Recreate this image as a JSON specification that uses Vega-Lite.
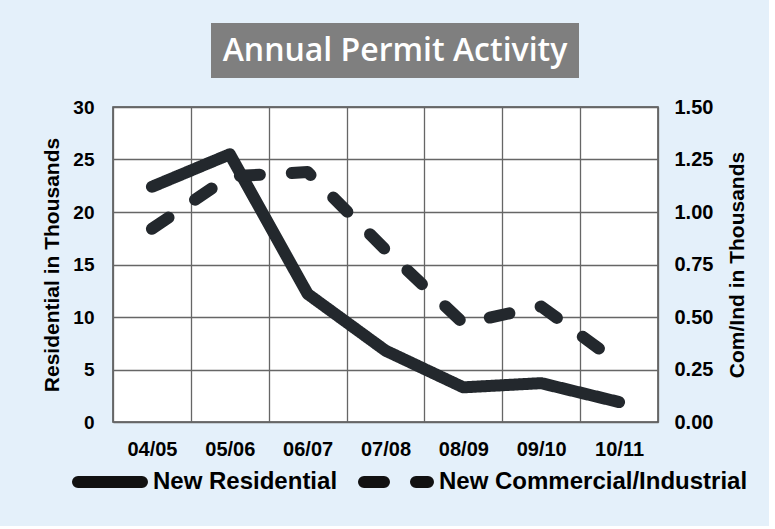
{
  "$schema": "https://vega.github.io/schema/vega-lite/v6.json",
  "background": "#e4f0fa",
  "padding": {"left": 41, "top": 23, "right": 20, "bottom": 20},
  "spacing": 18,
  "config": {"font": "Liberation Sans"},
  "datasets": {
    "permits": [
      {"year": "04/05", "series": "New Residential", "value": 22.4},
      {"year": "05/06", "series": "New Residential", "value": 25.5},
      {"year": "06/07", "series": "New Residential", "value": 12.2},
      {"year": "07/08", "series": "New Residential", "value": 6.8},
      {"year": "08/09", "series": "New Residential", "value": 3.3},
      {"year": "09/10", "series": "New Residential", "value": 3.7},
      {"year": "10/11", "series": "New Residential", "value": 1.9},
      {"year": "04/05", "series": "New Commercial/Industrial", "value": 0.92},
      {"year": "05/06", "series": "New Commercial/Industrial", "value": 1.17},
      {"year": "06/07", "series": "New Commercial/Industrial", "value": 1.19},
      {"year": "07/08", "series": "New Commercial/Industrial", "value": 0.82},
      {"year": "08/09", "series": "New Commercial/Industrial", "value": 0.47},
      {"year": "09/10", "series": "New Commercial/Industrial", "value": 0.55},
      {"year": "10/11", "series": "New Commercial/Industrial", "value": 0.28}
    ],
    "title": [{"t": "Annual Permit Activity"}]
  },
  "vconcat": [
    {
      "spacing": 0,
      "hconcat": [
        {
          "width": 98,
          "height": 55,
          "view": {"fill": "#e4f0fa", "stroke": null},
          "data": {"values": [{"t": ""}]},
          "mark": {"type": "text"},
          "encoding": {"text": {"field": "t", "type": "nominal"}}
        },
        {
          "width": 368,
          "height": 55,
          "view": {"fill": "#7f7f7f", "stroke": null},
          "data": {"name": "title"},
          "mark": {"type": "text", "font": "Open Sans", "fontSize": 32, "fontWeight": 600, "color": "#ffffff", "align": "center", "baseline": "middle"},
          "encoding": {"text": {"field": "t", "type": "nominal"}}
        }
      ]
    },
    {
      "width": 545,
      "height": 315,
      "view": {"fill": "#ffffff", "stroke": "#4a4a4a", "strokeWidth": 1.5},
      "data": {"name": "permits"},
      "encoding": {
        "x": {
          "field": "year",
          "type": "ordinal",
          "sort": null,
          "scale": {"type": "band", "paddingInner": 0, "paddingOuter": 0},
          "axis": {
            "title": null,
            "labelAngle": 0,
            "labelFont": "Liberation Sans",
            "labelFontSize": 20,
            "labelFontWeight": "bold",
            "labelColor": "#000000",
            "labelPadding": 17,
            "ticks": false,
            "domain": false,
            "grid": true,
            "gridColor": "#666666",
            "gridWidth": 1.3,
            "tickBand": "extent"
          }
        }
      },
      "layer": [
        {
          "transform": [{"filter": "datum.series === 'New Residential'"}],
          "mark": {"type": "line", "strokeWidth": 12, "strokeCap": "round", "strokeJoin": "round", "color": "#23282d"},
          "encoding": {
            "y": {
              "field": "value",
              "type": "quantitative",
              "scale": {"domain": [0, 30], "nice": false},
              "axis": {
                "title": "Residential in Thousands",
                "values": [0, 5, 10, 15, 20, 25, 30],
                "titleFont": "Liberation Sans",
                "titleFontSize": 21,
                "titleFontWeight": "bold",
                "titleColor": "#000000",
                "titlePadding": 10,
                "labelFont": "Liberation Sans",
                "labelFontSize": 19,
                "labelFontWeight": "bold",
                "labelColor": "#000000",
                "labelPadding": 19,
                "ticks": false,
                "domain": false,
                "grid": true,
                "gridColor": "#666666",
                "gridWidth": 1.3
              }
            },
            "strokeDash": {
              "field": "series",
              "type": "nominal",
              "scale": {"domain": ["New Residential", "New Commercial/Industrial"], "range": [[1, 0], [20, 32]]},
              "legend": {
                "orient": "none",
                "legendX": -41,
                "legendY": 421,
                "direction": "horizontal",
                "title": null,
                "symbolType": "stroke",
                "symbolSize": 4096,
                "symbolStrokeWidth": 12,
                "symbolStrokeColor": "#111111",
                "labelFont": "Liberation Sans",
                "labelFontSize": 24,
                "labelFontWeight": "bold",
                "labelColor": "#000000",
                "labelOffset": 5,
                "columnPadding": 2,
                "padding": 0,
                "labelLimit": 320,
                "encode": {
                  "symbols": {
                    "update": {
                      "strokeCap": {"value": "round"},
                      "strokeDash": [
                        {"test": "datum.value === 'New Commercial/Industrial'", "value": [17, 21]},
                        {"value": [1, 0]}
                      ]
                    }
                  }
                }
              }
            }
          }
        },
        {
          "transform": [{"filter": "datum.series === 'New Commercial/Industrial'"}],
          "mark": {"type": "line", "strokeWidth": 12, "strokeCap": "round", "strokeJoin": "round", "color": "#23282d"},
          "encoding": {
            "y": {
              "field": "value",
              "type": "quantitative",
              "scale": {"domain": [0, 1.5], "nice": false},
              "axis": {
                "orient": "right",
                "title": "Com/Ind in Thousands",
                "format": ".2f",
                "values": [0, 0.25, 0.5, 0.75, 1, 1.25, 1.5],
                "titleAngle": 270,
                "titleBaseline": "top",
                "titleFont": "Liberation Sans",
                "titleFontSize": 21,
                "titleFontWeight": "bold",
                "titleColor": "#000000",
                "titlePadding": 14,
                "labelFont": "Liberation Sans",
                "labelFontSize": 20,
                "labelFontWeight": "bold",
                "labelColor": "#000000",
                "labelPadding": 16,
                "ticks": false,
                "domain": false,
                "grid": false
              }
            },
            "strokeDash": {"field": "series", "type": "nominal"}
          }
        }
      ],
      "resolve": {"scale": {"y": "independent"}}
    }
  ]
}
